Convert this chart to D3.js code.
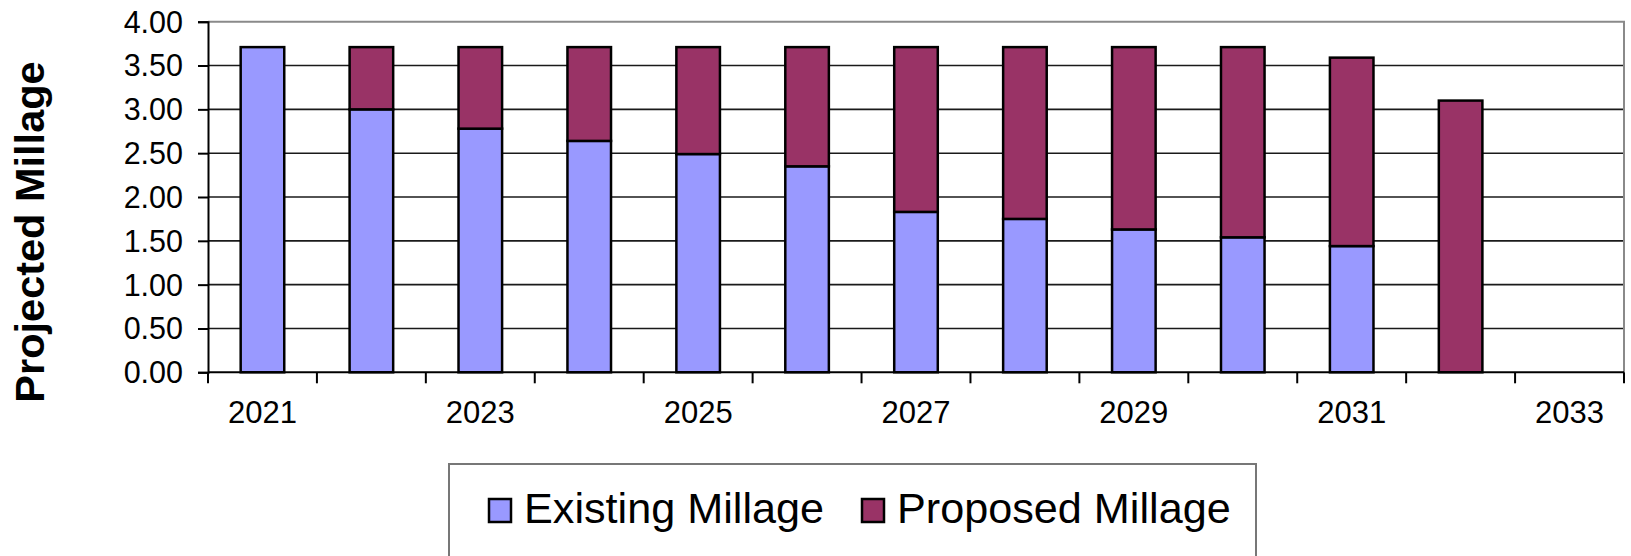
<!DOCTYPE html>
<html>
<head>
<meta charset="utf-8">
<script src="https://cdn.jsdelivr.net/npm/d3@7"></script>
<style>
  html, body { margin: 0; padding: 0; background: #fff; }
  svg { display: block; font-family: "Liberation Sans", Arial, sans-serif; }
</style>
</head>
<body>
<svg id="chart" width="1631" height="556"></svg>
<script>
// ---- data ----
const years = ["2021","2022","2023","2024","2025","2026","2027","2028","2029","2030","2031","2032","2033"];
const existingMillage = [3.71, 3.00, 2.78, 2.64, 2.49, 2.35, 1.83, 1.75, 1.63, 1.54, 1.44, 0, null];
const proposedMillage = [0, 0.71, 0.93, 1.07, 1.22, 1.36, 1.88, 1.96, 2.08, 2.17, 2.15, 3.10, null];
const yTicks = [0, 0.5, 1, 1.5, 2, 2.5, 3, 3.5, 4];
const xLabels = ["2021","2023","2025","2027","2029","2031","2033"];
const seriesNames = ["Existing Millage", "Proposed Millage"];
const seriesColors = ["#9999FF", "#993366"];
const yTitle = "Projected Millage";

// ---- layout ----
const L = 208, R = 1624, T = 21.7, B = 372.3;
const svg = d3.select("#chart");
svg.append("rect").attr("width", 1631).attr("height", 556).attr("fill", "#fff");

const x = d3.scaleBand().domain(years).range([L, R]).paddingInner(0.6).paddingOuter(0.3);
const y = d3.scaleLinear().domain([0, 4]).range([B, T]);

// gridlines
svg.append("g").selectAll("line").data(yTicks.filter(v => v > 0 && v < 4)).join("line")
  .attr("x1", L).attr("x2", R)
  .attr("y1", d => y(d)).attr("y2", d => y(d))
  .attr("stroke", "#1a1a1a").attr("stroke-width", 1.6);

// plot border top/right (grey)
svg.append("path")
  .attr("d", `M${L},${y(4)}H${R}V${B}`)
  .attr("fill", "none").attr("stroke", "#8a8a8a").attr("stroke-width", 2);

// bars
const rows = years.map((yr, i) => ({ yr, e: existingMillage[i], p: proposedMillage[i] }));
const bars = svg.append("g");
rows.forEach(r => {
  if (r.e) {
    bars.append("rect")
      .attr("x", x(r.yr)).attr("width", x.bandwidth())
      .attr("y", y(r.e)).attr("height", y(0) - y(r.e))
      .attr("fill", seriesColors[0]).attr("stroke", "#000").attr("stroke-width", 2.5);
  }
  if (r.p) {
    const base = r.e || 0;
    bars.append("rect")
      .attr("x", x(r.yr)).attr("width", x.bandwidth())
      .attr("y", y(base + r.p)).attr("height", y(base) - y(base + r.p))
      .attr("fill", seriesColors[1]).attr("stroke", "#000").attr("stroke-width", 2.5);
  }
});

// y axis
const yAxis = d3.axisLeft(y).tickValues(yTicks).tickFormat(d3.format(".2f")).tickSize(10).tickPadding(15);
const gy = svg.append("g").attr("transform", `translate(${L},0)`).call(yAxis);
gy.select(".domain").attr("stroke", "#000").attr("stroke-width", 2);
gy.selectAll(".tick line").attr("stroke", "#000").attr("stroke-width", 2);
gy.selectAll(".tick text").attr("font-size", 30.5).attr("fill", "#000")
  .attr("font-family", "'Liberation Sans', Arial, sans-serif").attr("dy", "0.34em");

// x axis
const xAxis = d3.axisBottom(x).tickValues(xLabels).tickSize(0).tickPadding(16);
const gx = svg.append("g").attr("transform", `translate(0,${B})`).call(xAxis);
gx.select(".domain").remove();
gx.selectAll(".tick text").attr("font-size", 31).attr("fill", "#000")
  .attr("font-family", "'Liberation Sans', Arial, sans-serif").attr("dy", "1.12em");
svg.append("line").attr("x1", L).attr("x2", R).attr("y1", B).attr("y2", B)
  .attr("stroke", "#000").attr("stroke-width", 2);
// category boundary ticks
const bounds = years.map(yr => x(yr) - x.step() * x.paddingInner() / 2).concat([R]);
svg.append("g").selectAll("line").data(bounds).join("line")
  .attr("x1", d => d).attr("x2", d => d).attr("y1", B).attr("y2", B + 11)
  .attr("stroke", "#000").attr("stroke-width", 2);

// y title
svg.append("text")
  .attr("transform", "translate(44,232) rotate(-90)")
  .attr("text-anchor", "middle")
  .attr("font-size", 41.5).attr("font-weight", "bold").attr("fill", "#000")
  .text(yTitle);

// legend
const lg = svg.append("g");
lg.append("rect").attr("x", 449).attr("y", 464).attr("width", 807).attr("height", 120)
  .attr("fill", "#fff").attr("stroke", "#777").attr("stroke-width", 2);
const legendX = [489, 862];
seriesNames.forEach((name, i) => {
  lg.append("rect").attr("x", legendX[i]).attr("y", 499).attr("width", 22).attr("height", 23)
    .attr("fill", seriesColors[i]).attr("stroke", "#000").attr("stroke-width", 2.5);
  lg.append("text").attr("x", legendX[i] + 35).attr("y", 523)
    .attr("font-size", 43.2).attr("fill", "#000").text(name);
});
</script>
</body>
</html>
